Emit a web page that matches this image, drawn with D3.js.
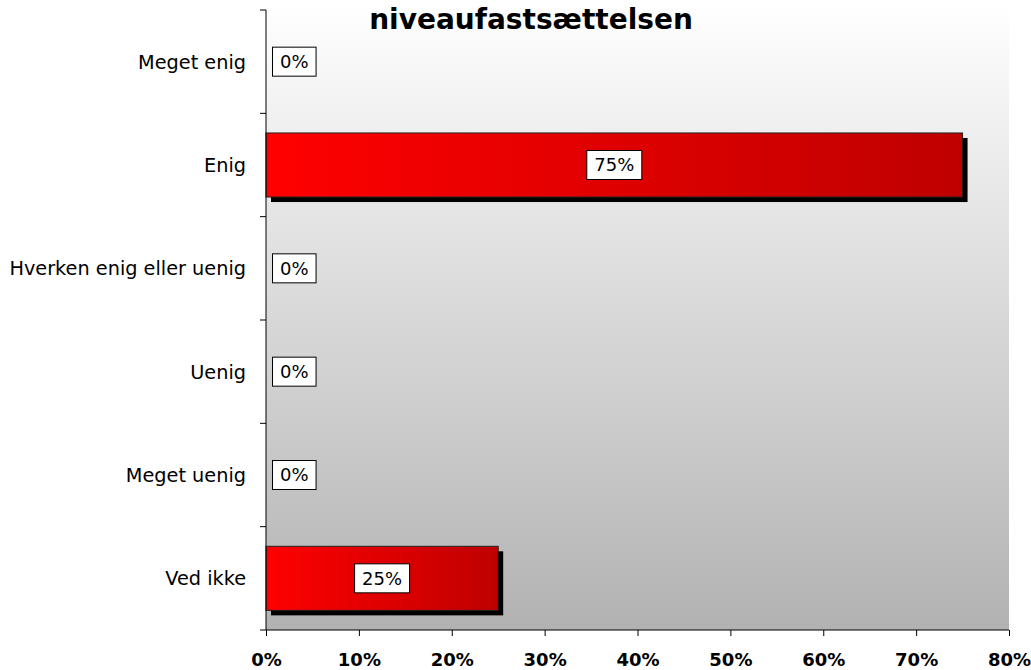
<!DOCTYPE html>
<html><head><meta charset="utf-8">
<script src="https://cdn.jsdelivr.net/npm/d3@7/dist/d3.min.js"></script>
<style>body{margin:0;background:#fff}svg{display:block}</style>
</head><body>
<script>
const categories = ["Meget enig","Enig","Hverken enig eller uenig","Uenig","Meget uenig","Ved ikke"];
const values = [0, 75, 0, 0, 0, 25];
const xTicks = [0,10,20,30,40,50,60,70,80];
const title = "niveaufastsættelsen";

const W = 1031, H = 670;
const m = {left:266, right:1009, top:10, bottom:630};
const svg = d3.select("body").append("svg").attr("width",W).attr("height",H);
const defs = svg.append("defs");
const bg = defs.append("linearGradient").attr("id","bg").attr("x1",0).attr("y1",0).attr("x2",0).attr("y2",1);
bg.append("stop").attr("offset","0%").attr("stop-color","#ffffff");
bg.append("stop").attr("offset","100%").attr("stop-color","#b2b2b2");
const bar = defs.append("linearGradient").attr("id","bar").attr("x1",0).attr("y1",0).attr("x2",1).attr("y2",0);
bar.append("stop").attr("offset","0%").attr("stop-color","#ff0000");
bar.append("stop").attr("offset","100%").attr("stop-color","#bf0000");

const x = d3.scaleLinear().domain([0,80]).range([m.left,m.right]);
const y = d3.scaleBand().domain(categories).range([m.top,m.bottom]).paddingInner(0.38).paddingOuter(0.19);

svg.append("rect").attr("x",m.left).attr("y",0).attr("width",m.right-m.left).attr("height",m.bottom)
  .attr("fill","url(#bg)");

// shadows
svg.selectAll("rect.sh").data(values).join("rect").attr("class","sh")
  .attr("x",(d)=>x(0)+5).attr("y",(d,i)=>y(categories[i])+5)
  .attr("width",d=>d>0?x(d)-x(0):0).attr("height",y.bandwidth())
  .attr("fill","#000");
svg.selectAll("rect.bar").data(values).join("rect").attr("class","bar")
  .attr("x",x(0)).attr("y",(d,i)=>y(categories[i]))
  .attr("width",d=>x(d)-x(0)).attr("height",y.bandwidth())
  .attr("fill","url(#bar)").attr("stroke",d=>d>0?"#222":"none").attr("stroke-width",1);

// axes
const ya = svg.append("g").attr("transform",`translate(${m.left},0)`);
ya.append("line").attr("y1",m.top).attr("y2",m.bottom).attr("stroke","#000");
const bounds = categories.map(c=>y(c)-y.step()*y.paddingInner()/2).concat([m.bottom]);
ya.selectAll("line.t").data(bounds).join("line").attr("class","t")
  .attr("x1",-6).attr("x2",0).attr("y1",d=>d).attr("y2",d=>d).attr("stroke","#000");
ya.selectAll("text").data(categories).join("text")
  .attr("x",-20).attr("y",c=>y(c)+y.bandwidth()/2).attr("dy","0.36em")
  .attr("text-anchor","end").attr("font-family","DejaVu Sans, Verdana, sans-serif")
  .attr("font-size",19.3).attr("fill","#000").text(c=>c);

const xa = svg.append("g").attr("transform",`translate(0,${m.bottom})`)
  .call(d3.axisBottom(x).tickValues(xTicks).tickSize(6).tickFormat(d=>d+"%"));
xa.select(".domain").attr("stroke","#000").attr("d",`M${m.left},0H${m.right}`);
xa.selectAll("line").attr("stroke","#000");
xa.selectAll("text").attr("font-family","DejaVu Sans, Verdana, sans-serif").attr("font-weight","bold")
  .attr("font-size",18).attr("fill","#000").attr("y",23).attr("dy","0.71em");

// value labels
const lab = svg.append("g").selectAll("g").data(values).join("g");
lab.each(function(d,i){
  const g = d3.select(this);
  const t = g.append("text").text(d+"%").attr("font-family","DejaVu Sans, Verdana, sans-serif")
    .attr("font-size",18).attr("fill","#000");
  const bb = t.node().getBBox();
  const w = bb.width+15, h = 29;
  const cx = d>0 ? (x(0)+x(d))/2 : x(0)+6.5+w/2;
  const cy = y(categories[i])+y.bandwidth()/2;
  g.insert("rect","text").attr("x",cx-w/2).attr("y",cy-h/2).attr("width",w).attr("height",h)
    .attr("fill","#fff").attr("stroke","#000").attr("stroke-width",1);
  t.attr("x",cx).attr("y",cy).attr("dy","0.36em").attr("text-anchor","middle");
});

svg.append("text").attr("x",531).attr("y",29).attr("text-anchor","middle")
  .attr("font-family","DejaVu Sans, Verdana, sans-serif").attr("font-weight","bold")
  .attr("font-size",28).text(title);
</script>
</body></html>
